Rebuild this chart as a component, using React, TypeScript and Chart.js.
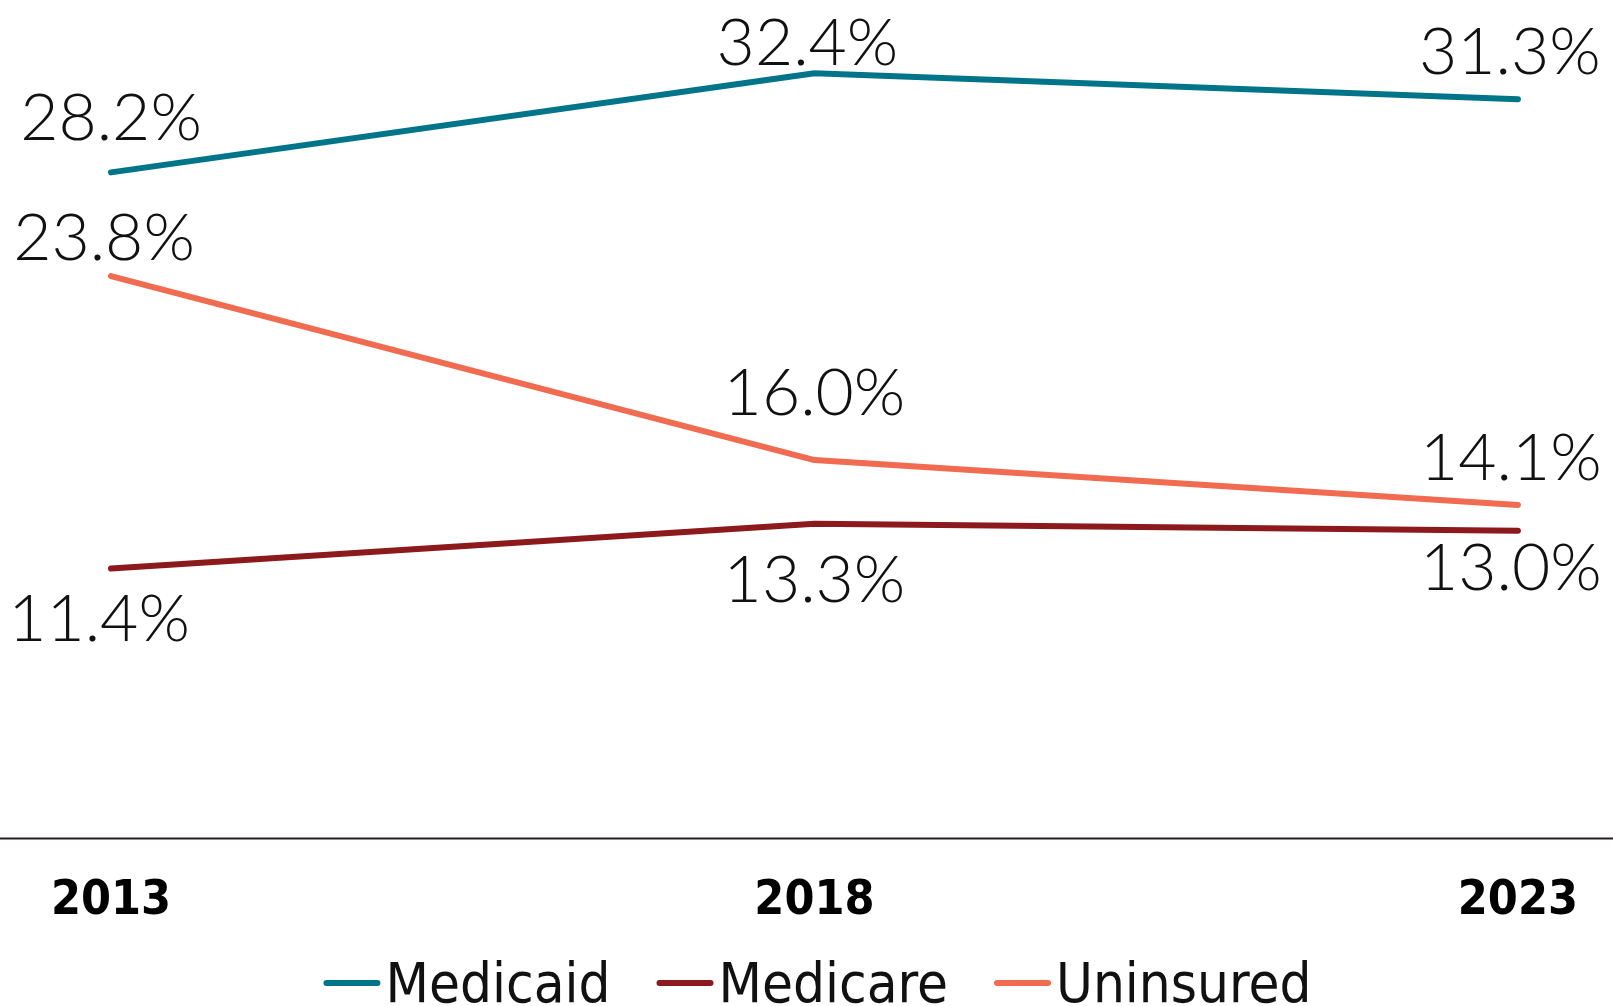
import React, { useEffect, useRef } from "react";
import { Chart, registerables } from "chart.js";

Chart.register(...registerables);

const years = ["2013", "2018", "2023"];
const seriesNames = ["Medicaid", "Medicare", "Uninsured"];
const medicaid = [28.2, 32.4, 31.3];
const medicare = [11.4, 13.3, 13.0];
const uninsured = [23.8, 16.0, 14.1];

const seriesColors = ["#00758A", "#8C1A1D", "#F06B4F"];

// label offsets (dx, dy) relative to each point, per series
const labelOffsets = [
  [[0, -56], [-7, -32], [-8, -49]],
  [[-12, 49], [0, 54], [-7, 35]],
  [[-7, -40], [0, -69], [-7, -49]],
];

const LABEL_FONT_SIZE = 66;
const LABEL_FONT = `300 ${LABEL_FONT_SIZE}px Lato`;
const LEGEND_FONT_SIZE = 56;
const LEGEND_FONT = `${LEGEND_FONT_SIZE}px "DejaVu Sans Condensed"`;

const decorPlugin = {
  id: "decor",
  beforeDatasetsDraw(chart: any) {
    const ctx = chart.ctx;
    const y0 = chart.scales.y.getPixelForValue(0) + 1;
    ctx.save();
    ctx.strokeStyle = "#231F20";
    ctx.lineWidth = 2;
    ctx.beginPath();
    ctx.moveTo(0, y0);
    ctx.lineTo(chart.width, y0);
    ctx.stroke();
    ctx.restore();
  },
  afterDatasetsDraw(chart: any) {
    const ctx = chart.ctx;
    ctx.save();
    ctx.font = LABEL_FONT;
    ctx.fillStyle = "#111";
    ctx.textAlign = "center";
    ctx.textBaseline = "alphabetic";
    chart.data.datasets.forEach((ds: any, di: number) => {
      const meta = chart.getDatasetMeta(di);
      meta.data.forEach((pt: any, i: number) => {
        const v = ds.data[i];
        const [dx, dy] = labelOffsets[di][i];
        ctx.fillText(`${v.toFixed(1)}%`, pt.x + dx, pt.y + dy + LABEL_FONT_SIZE * 0.36);
      });
    });
    ctx.restore();

    // legend
    ctx.save();
    ctx.font = LEGEND_FONT;
    const swatchW = 57;
    const gap = 5;
    const itemGap = 46;
    const widths = chart.data.datasets.map((ds: any) => ctx.measureText(ds.label).width);
    const total = widths.reduce((a: number, w: number) => a + swatchW + gap + w, 0) + itemGap * (widths.length - 1);
    const ca = chart.chartArea;
    let x = (ca.left + ca.right) / 2 + 3 - total / 2;
    const yc = 983;
    chart.data.datasets.forEach((ds: any, di: number) => {
      ctx.strokeStyle = ds.borderColor;
      ctx.lineWidth = 6;
      ctx.lineCap = "round";
      ctx.beginPath();
      ctx.moveTo(x + 3, yc);
      ctx.lineTo(x + swatchW - 3, yc);
      ctx.stroke();
      ctx.fillStyle = "#111";
      ctx.textAlign = "left";
      ctx.textBaseline = "alphabetic";
      ctx.fillText(ds.label, x + swatchW + gap, 1002);
      x += swatchW + gap + widths[di] + itemGap;
    });
    ctx.restore();
  },
};

export default function App() {
  const ref = useRef<HTMLCanvasElement>(null);
  useEffect(() => {
    document.body.style.margin = "0";
    const seriesData = [medicaid, medicare, uninsured];
    const chart = new Chart(ref.current!, {
      type: "line",
      data: {
        labels: years,
        datasets: seriesNames.map((name, i) => ({
          label: name,
          data: seriesData[i],
          borderColor: seriesColors[i],
          backgroundColor: seriesColors[i],
          borderWidth: 6,
          borderCapStyle: "round",
          borderJoinStyle: "round",
          pointRadius: 0,
          tension: 0,
          clip: false,
        })),
      },
      options: {
        responsive: false,
        animation: false,
        layout: { padding: { left: 111, right: 89, top: 12, bottom: 41 } },
        plugins: { legend: { display: false }, tooltip: { enabled: false } },
        scales: {
          x: {
            offset: false,
            grid: { display: false, drawTicks: false },
            border: { display: false },
            ticks: {
              color: "#000",
              padding: 35,
              maxRotation: 0,
              font: { family: "DejaVu Sans Condensed", weight: "bold", size: 48 },
            },
          },
          y: { display: false, min: 0, max: 35 },
        },
      },
      plugins: [decorPlugin],
    } as any);
    return () => chart.destroy();
  }, []);
  return (
    <div style={{ width: 1613, height: 1006 }}>
      <canvas ref={ref} width={1613} height={1006} />
    </div>
  );
}
